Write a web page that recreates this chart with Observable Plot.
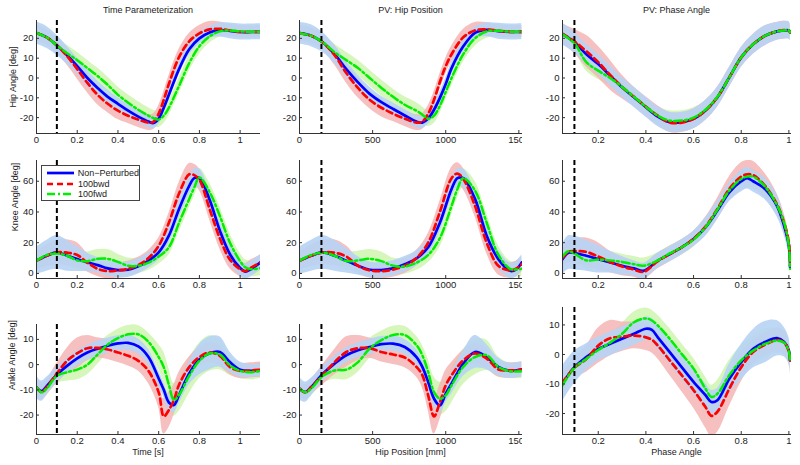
<!DOCTYPE html>
<html><head><meta charset="utf-8">
<script src="https://cdn.jsdelivr.net/npm/d3@7"></script>
<script src="https://cdn.jsdelivr.net/npm/@observablehq/plot@0.6"></script>
<style>
body{margin:0;background:#fff;}
#fig{position:relative;width:800px;height:465px;overflow:hidden;font-family:"Liberation Sans",Arial,sans-serif;color:#222;background:#fff;}
.lbl{position:absolute;font-size:9px;white-space:nowrap;line-height:1;}
.panel{position:absolute;}
.legend{position:absolute;background:#fff;border:1px solid #444;box-sizing:border-box;font-size:9px;}
.legend .row{display:flex;align-items:center;height:10px;}
</style></head><body><div id="fig"></div>
<script>
// ---------- series ----------
const seriesNames = ["Non\u2212Perturbed", "100bwd", "100fwd"];
const lineColor = ["#0000ff", "#ff0000", "#00ee00"];
const bandFill = ["#b7d4f4", "#f5b5b5", "#d4f5b8"];
const bandOpacity = [0.92, 0.85, 0.95];
const lineDash = [null, "6,4", "8,3,2,3"];
const lineWidth = [2.7, 2.7, 2.5];

// ---------- column / row metadata ----------
const colTitles = ["Time Parameterization", "PV: Hip Position", "PV: Phase Angle"];
const colXLabels = ["Time [s]", "Hip Position [mm]", "Phase Angle"];
const rowYLabels = ["Hip Angle [deg]", "Knee Angle [deg]", "Ankle Angle [deg]"];
const markerX = [0.1, 150, 0.1];
const xTicksTime = [0, 0.2, 0.4, 0.6, 0.8, 1];
const xTicksHip = [0, 500, 1000, 1500];
const xTicksPhase = [0.2, 0.4, 0.6, 0.8, 1];
const yTicksHip = [-20, -10, 0, 10, 20];
const yTicksKnee = [0, 20, 40, 60];
const yTicksAnkle = [-20, -10, 0, 10];

// ---------- Hip angle vs time ----------
const hipT_x = [0,.05,.1,.15,.2,.25,.3,.35,.4,.45,.5,.55,.575,.6,.625,.65,.7,.75,.8,.85,.9,.95,1,1.05,1.1];
const hipT_np = [22.7,20.5,16.5,11.5,6,0,-5,-9.5,-13,-16.5,-19.5,-22,-22.7,-20.5,-15,-8.5,4.5,14.5,20,23,24.2,23.8,23.2,23.2,23.3];
const hipT_bwd = [22.7,20.5,16.5,11,4.5,-2.5,-8.5,-13,-16.5,-19,-21,-22.5,-22,-18,-11,-3,10.5,18.5,22.5,24.5,24.8,24,23.3,23.2,23.3];
const hipT_fwd = [22.7,20.5,16.5,12.5,9,5,1,-3.5,-8.5,-12.5,-16,-19,-20.3,-21,-19,-15,-4,7.5,16,21,23.5,24,23.5,23.3,23.3];
const hipT_np_sd = [5.5,5.5,5,4.5,4,4,3.5,3.5,3,3,3,3,3,3,3,3,3,3,3,3,3.5,4,4,4,4];
const hipT_bwd_sd = [4,4,4,4.5,5,5,5,4.5,4.5,4,4,4,4,4,4,4,4,4,4,4,3.5,3,3,3,3];
const hipT_fwd_sd = [4,4,4,4,4,4,4,4,4,4,4,4,4,4,4,4,4,4,4,3.5,3,3,3,3,3];

// ---------- Hip angle vs hip position ----------
const hipP_x = [0,80,160,240,320,400,480,560,640,720,800,840,880,920,960,1000,1040,1120,1200,1280,1360,1440,1520];
const hipP_np = [22.6,21.3,17.9,12,4.5,-2.2,-8,-12.2,-15.6,-18.9,-22,-22.5,-20.5,-16,-10,-3,5,16,22.8,24.3,23.6,23.2,23.3];
const hipP_bwd = [22.6,21.3,17.9,11.5,2.5,-5,-11,-15,-18,-20.5,-22.5,-22,-18,-11,-2,6,12,20.5,24,24.5,23.8,23.3,23.3];
const hipP_fwd = [22.6,21.3,18,13,9,5,0,-5,-9.5,-13.5,-16.5,-18.5,-20.5,-19,-14,-7,0,12,20,23.5,23.8,23.3,23.3];
const hipP_np_sd = [5.5,5.5,5,4.5,4,3.5,3.5,3,3,3,3,3,3,3,3,3,3,3,3,3.5,4,4,4];
const hipP_bwd_sd = [4,4,4,5,5,5,4.5,4.5,4,4,4,4,4,4,4,4,4,4,4,3.5,3,3,3];
const hipP_fwd_sd = [4,4,4,4,4,4,4,4,4,4,4,4,4,4,4,4,4,4,4,3.5,3,3,3];

// ---------- Hip angle vs phase angle ----------
const hipPh_x = [.05,.1,.15,.2,.25,.3,.35,.4,.45,.5,.55,.6,.65,.7,.75,.8,.85,.9,.95,.98,1,1.005];
const hipPh_np = [22.2,18,12,7,1.2,-4.7,-9.7,-14.7,-19.5,-22.3,-22.3,-20.6,-16.4,-9.7,.3,10.4,17,21.3,23.5,24,24,23];
const hipPh_bwd = [22.2,18.5,13.5,8,1.5,-4.5,-9.5,-14.5,-19,-22.5,-22.5,-20.6,-16.4,-9.7,.3,10.4,17,21.3,23.5,24.2,24,23];
const hipPh_fwd = [22,17.5,8,3.7,0,-4.5,-9.5,-14.5,-19,-21.5,-21.5,-20,-16,-9.5,.3,10.4,17,21.3,23.5,24,24,23];
const hipPh_np_sd = [5.5,5,5,5,5,5,5,5,5,5,5,5,5,5,5,5,5,5,4.5,4.5,4.5,4.5];
const hipPh_bwd_sd = [5,6,8,8,7.5,6,5,5,5,5,5,5,5,5,5,5,5,5,4.5,4.5,4,4];
const hipPh_fwd_sd = [4,4,4.5,4.5,4,4,4,4,4.5,5,5,5,4.5,4,4,4,4,4,4,4,4,4];

// ---------- Knee angle vs time ----------
const kneeT_x = [0,.05,.1,.15,.2,.25,.3,.35,.4,.45,.5,.55,.6,.65,.7,.75,.775,.8,.85,.9,.95,1,1.025,1.05,1.1];
const kneeT_np = [8.3,11.5,13.7,11.5,9.3,7.2,5.4,3.3,2.2,2.4,4.6,8.3,13.7,24.6,42,57,62,62,48,28,12.5,3.5,1.2,2.5,7.2];
const kneeT_bwd = [8.3,11.5,13.7,13.5,12,7,3,1.5,2,3,5.5,10,18,33,52,64.5,64,61,42,23,9,2.8,1.5,3.5,7];
const kneeT_fwd = [8.3,12,13,11.5,8.5,8,9.5,9.5,7.5,5,5,7,11,17,33,48.5,56,62.5,53,37.5,20,8,4,2.8,3.5];
const kneeT_np_sd = [9,10,11,10,8,6,5,5,5,5,5,5,5,5,6,6,6,6,6,6,6,5,5,5,5];
const kneeT_bwd_sd = [6,7,8,8.5,8,6,5,5,5,5,5,5,5,6,7,7,7,7,7,7,6,5,5,5,5];
const kneeT_fwd_sd = [5,6,6,6,6,6,6,6,5,5,5,5,5,5,6,6,6,6,6,6,6,5,5,5,5];

// ---------- Knee angle vs hip position ----------
const kneeP_x = [0,80,160,240,320,400,480,560,640,720,800,880,960,1040,1080,1120,1200,1280,1360,1440,1480,1520];
const kneeP_np = [8.3,11.5,13.7,11.5,8.3,5,2.4,2.2,3.3,6,9.8,17,33,55,62,62,48.5,24.6,9.3,1.7,2.5,7.2];
const kneeP_bwd = [8.3,11.5,13.7,13.5,11,5,2,1.5,2.5,5,10,20,40,62,65,61.5,44,20,5,2,3,6];
const kneeP_fwd = [8.3,12,13.5,11.5,8,8.5,9.5,8,5,4.5,7,12,23,44,55,62,54,33,12,3,2.5,3];
const kneeP_np_sd = [9,10,11,10,8,6,5,5,5,5,5,5,6,6,6,6,6,6,6,5,5,5];
const kneeP_bwd_sd = [6,7,8,8.5,7,5,5,5,5,5,5,6,7,7,7,7,7,7,6,5,5,5];
const kneeP_fwd_sd = [5,6,6,6,6,6,6,6,5,5,5,5,6,6,6,6,6,6,6,5,5,5];

// ---------- Knee angle vs phase angle ----------
const kneePh_x = [.05,.075,.1,.15,.2,.25,.3,.35,.39,.45,.5,.55,.6,.65,.7,.75,.8,.825,.85,.9,.95,.98,1,1.005];
const kneePh_np = [9.3,13.5,13.3,11.5,9.3,7.2,5,3.3,1.7,8.3,12.6,17,22.4,30,40.9,52.8,60,62,60,55,44,31,18,4];
const kneePh_bwd = [10,14,14.5,14,11,7.5,4.5,2.5,1,8,12.5,17,22.5,30.5,42,55,63,64.5,64,57,45,33,20,5];
const kneePh_fwd = [11,14.5,13,8.5,9,8.5,7.5,6,5,8.5,13,17,22,30,41.5,54,61.5,63,63,56.5,44.5,33,18,3];
const kneePh_np_sd = [10,11,11,10,9,7,6,5,5,5,5,5,5,6,6,6,7,7,7,7,7,6,6,5];
const kneePh_bwd_sd = [6,7,8,9,9,7,6,5,5,5,5,5,5,6,7,8,9,9,9,8,7,6,5,5];
const kneePh_fwd_sd = [5,5,5,6,6,6,5,5,5,5,5,5,5,5,5,5,5,5,5,5,5,5,5,5];

// ---------- Ankle angle vs time ----------
const ankT_x = [0,.025,.05,.1,.15,.2,.25,.3,.35,.4,.45,.5,.55,.6,.625,.65,.675,.7,.75,.8,.85,.9,.95,1,1.05,1.1];
const ankT_np = [-9,-10.5,-8.5,-4,-.5,2.5,4.8,6.3,7.5,8.4,8.6,7.2,3,-5.5,-10,-15,-16,-12,-3.5,2,4.5,5,1,-2,-2.5,-2.3];
const ankT_bwd = [-9,-11,-9,-3.5,1.5,4.5,6.5,6.6,6,4.8,3.5,1.5,-2.5,-11,-20.5,-18,-14,-8,-1,3,4.8,3.5,-1,-2.5,-2.3,-2];
const ankT_fwd = [-9,-11,-9.5,-4.5,-3,-2,0,4,8,10.5,12,12,9,3,-1,-8,-14,-12,-4.5,1.5,4.4,4,-.3,-2.5,-3,-2.5];
const ankT_np_sd = [4.5,4,3.5,3,3,3,3,3,3,3,3,3,3,3,3,3,3,3.5,4.5,6,6.5,6,4,3,2.5,2.5];
const ankT_bwd_sd = [3,3,3,4,5,6,5,4,4,4,4,4,5,6,7,7,6,5,4,4,4,4,3,3,3,3];
const ankT_fwd_sd = [3,3,3,3,3.5,4,4,4,3.5,3.5,3.5,3.5,3.5,5,6,6.5,6.5,6.5,7,7,7,6,4,3,3,3];

// ---------- Ankle angle vs hip position ----------
const ankP_x = [0,40,80,160,240,320,400,480,560,640,720,800,840,880,920,960,1000,1040,1120,1200,1280,1360,1440,1520];
const ankP_np = [-9.5,-10.9,-8.9,-3.6,.4,3.7,5.7,7,8.1,8.3,7,3,-.9,-6.9,-13.5,-16.2,-11.5,-7.5,.4,5,3,-.9,-2.5,-1.9];
const ankP_bwd = [-9.5,-11,-9,-4,1,5,6.5,6.5,5,4,2.8,-.9,-4.2,-12.2,-20.5,-15,-8.2,-4.2,1.7,4.4,2.4,-1.9,-2.3,-2];
const ankP_fwd = [-9.5,-11,-9.5,-4.5,-2.3,-2,1,6.4,9.7,11.7,11.7,7.7,3.7,-2.9,-10.9,-13.5,-12.2,-8.2,-.9,3,3.7,-.9,-2.6,-2.6];
const ankP_np_sd = [4.5,4,3.5,3,3,3,3,3,3,3,3,3,3,3,3,3,3.5,4,5,6.5,5,3.5,3,3];
const ankP_bwd_sd = [3,3,3,4,5,6,5,4,4,4,4,4,5,6,7,7,6,5,4,4,4,3,3,3];
const ankP_fwd_sd = [3,3,3,3,3.5,4,4,4,3.5,3.5,3.5,3.5,4,5,6,6.5,6.5,7,7,7,6,4,3,3];

// ---------- Ankle angle vs phase angle ----------
const ankPh_x = [.05,.1,.15,.2,.25,.3,.35,.4,.425,.45,.5,.55,.6,.65,.675,.7,.75,.8,.85,.9,.95,.98,1,1.005];
const ankPh_np = [-9.9,-4.3,-.9,1.9,3.6,5.3,7,8.7,8.3,5.8,.8,-4.3,-9.3,-13.8,-16.1,-15.5,-8.2,-2.6,1.9,4.2,5.5,4.2,1.3,-2];
const ankPh_bwd = [-9.5,-4.5,-1.5,3,5.5,6,6.4,5.8,5,3,-2,-7,-12.1,-17.8,-20.8,-19.4,-11.6,-4.3,.8,3.3,4.9,4,1,-2.5];
const ankPh_fwd = [-10.5,-4.5,-1.5,1.5,4,7,10.9,12.2,11.5,9.8,5.3,.2,-4.8,-11.6,-14.4,-13.3,-7,-2,1.3,3.6,4.7,4,1,-2.5];
const ankPh_np_sd = [6,5.5,4.5,4,4,4,4,4,4,4,4,4,4,4,4,4,5,6,6.5,7,6,5,4.5,4];
const ankPh_bwd_sd = [3,3.5,4.5,6,6,5,4.5,4.5,4.5,4.5,5,5.5,6,7,7,7,6,5,4,4,4,4,4,4];
const ankPh_fwd_sd = [3,3,3,3,3,3.5,3.5,3.5,3.5,3.5,3.5,3.5,3.5,4,4,4.5,5,5,5,5,4.5,4,4,4];

// ---------- layout ----------
const colX = [[36, 260], [299, 522], [562, 791]];
const rowY = [[20, 133], [160, 278], [324, 434]];
const xDomains = [[0, 1.1], [0, 1525], [0.05, 1.011]];
const yDomains = [[-28, 29], [-3.3, 73.5], [-27.7, 15.9]];
const xTickSets = [xTicksTime, xTicksHip, xTicksPhase];
const yTickSets = [yTicksHip, yTicksKnee, yTicksAnkle];

const panels = [
  {r:0,c:0,x:hipT_x,m:[hipT_np,hipT_bwd,hipT_fwd],s:[hipT_np_sd,hipT_bwd_sd,hipT_fwd_sd]},
  {r:0,c:1,x:hipP_x,m:[hipP_np,hipP_bwd,hipP_fwd],s:[hipP_np_sd,hipP_bwd_sd,hipP_fwd_sd]},
  {r:0,c:2,x:hipPh_x,m:[hipPh_np,hipPh_bwd,hipPh_fwd],s:[hipPh_np_sd,hipPh_bwd_sd,hipPh_fwd_sd]},
  {r:1,c:0,x:kneeT_x,m:[kneeT_np,kneeT_bwd,kneeT_fwd],s:[kneeT_np_sd,kneeT_bwd_sd,kneeT_fwd_sd]},
  {r:1,c:1,x:kneeP_x,m:[kneeP_np,kneeP_bwd,kneeP_fwd],s:[kneeP_np_sd,kneeP_bwd_sd,kneeP_fwd_sd]},
  {r:1,c:2,x:kneePh_x,m:[kneePh_np,kneePh_bwd,kneePh_fwd],s:[kneePh_np_sd,kneePh_bwd_sd,kneePh_fwd_sd]},
  {r:2,c:0,x:ankT_x,m:[ankT_np,ankT_bwd,ankT_fwd],s:[ankT_np_sd,ankT_bwd_sd,ankT_fwd_sd]},
  {r:2,c:1,x:ankP_x,m:[ankP_np,ankP_bwd,ankP_fwd],s:[ankP_np_sd,ankP_bwd_sd,ankP_fwd_sd]},
  {r:2,c:2,x:ankPh_x,m:[ankPh_np,ankPh_bwd,ankPh_fwd],s:[ankPh_np_sd,ankPh_bwd_sd,ankPh_fwd_sd]}
];

const fig = document.getElementById("fig");
const axisColor = "#333";
const bandOrder = [2, 1, 0]; // green, red, then blue on top

for (const p of panels) {
  const [x0, x1] = colX[p.c];
  let [y0, y1] = rowY[p.r];
  let yDom = yDomains[p.r];
  if (p.r === 2 && p.c === 2) { y0 = 307; yDom = [-27.1, 15.9]; }
  const fw = x1 - x0, fh = y1 - y0;
  const ml = 32, mt = 4, mb = 16, mr = p.c === 1 ? 0 : 6;
  const xDom = xDomains[p.c];
  const rows = p.m.map((mean, s) => p.x.map((x, i) => ({x, y: mean[i], lo: mean[i] - p.s[s][i], hi: mean[i] + p.s[s][i]})));
  const marks = [];
  bandOrder.forEach(s => marks.push(Plot.areaY(rows[s], {x: "x", y1: "lo", y2: "hi", fill: bandFill[s], fillOpacity: bandOpacity[s], curve: "catmull-rom", clip: true})));
  rows.forEach((r, s) => marks.push(Plot.line(r, {x: "x", y: "y", stroke: lineColor[s], strokeWidth: lineWidth[s], strokeDasharray: lineDash[s], curve: "catmull-rom", clip: true})));
  marks.push(Plot.ruleX([markerX[p.c]], {stroke: "#000", strokeWidth: 2, strokeDasharray: "5,3"}));
  marks.push(Plot.ruleX([xDom[0]], {stroke: axisColor, strokeWidth: 1}));
  marks.push(Plot.ruleY([yDom[0]], {stroke: axisColor, strokeWidth: 1}));
  marks.push(Plot.tickY(yTickSets[p.r], {y: d => d, insetRight: fw - 3, stroke: axisColor}));
  marks.push(Plot.tickX(xTickSets[p.c], {x: d => d, insetTop: fh - 3, stroke: axisColor}));
  const svg = Plot.plot({
    width: fw + ml + mr, height: fh + mt + mb,
    marginLeft: ml, marginRight: mr, marginTop: mt, marginBottom: mb,
    x: {domain: xDom, ticks: xTickSets[p.c], tickFormat: d => String(d), tickSize: 0, tickPadding: 3, label: null},
    y: {domain: yDom, ticks: yTickSets[p.r], tickFormat: d => String(d), tickSize: 0, tickPadding: 3, label: null},
    style: {fontFamily: "'Liberation Sans', Arial, sans-serif", fontSize: "9.5px", color: "#222", background: "transparent", overflow: "hidden"},
    marks
  });
  const div = document.createElement("div");
  div.className = "panel";
  div.style.left = (x0 - ml) + "px";
  div.style.top = (y0 - mt) + "px";
  div.appendChild(svg);
  fig.appendChild(div);
}

// titles & axis labels
function label(text, cx, cy, rotate) {
  const d = document.createElement("div");
  d.className = "lbl";
  d.textContent = text;
  d.style.left = cx + "px";
  d.style.top = cy + "px";
  d.style.transform = "translate(-50%,-50%)" + (rotate ? " rotate(-90deg)" : "");
  fig.appendChild(d);
}
colTitles.forEach((t, i) => label(t, (colX[i][0] + colX[i][1]) / 2, 10));
colXLabels.forEach((t, i) => label(t, (colX[i][0] + colX[i][1]) / 2, 452));
const yLabelPos = [[12.5, 76.5], [15, 197], [12, 355]];
rowYLabels.forEach((t, i) => label(t, yLabelPos[i][0], yLabelPos[i][1], true));

// legend
const leg = d3.select(fig).append("div").attr("class", "legend")
  .style("left", "41px").style("top", "165px").style("width", "99px").style("height", "36px")
  .style("padding-top", "2px");
seriesNames.forEach((name, s) => {
  const row = leg.append("div").attr("class", "row").style("margin-top", s ? "0.5px" : "0");
  const sw = row.append("svg").attr("width", 36).attr("height", 10);
  sw.append("line").attr("x1", 5).attr("x2", 32).attr("y1", 5).attr("y2", 5)
    .attr("stroke", lineColor[s]).attr("stroke-width", lineWidth[s])
    .attr("stroke-dasharray", lineDash[s]);
  row.append("span").text(name);
});
</script>
</body></html>
